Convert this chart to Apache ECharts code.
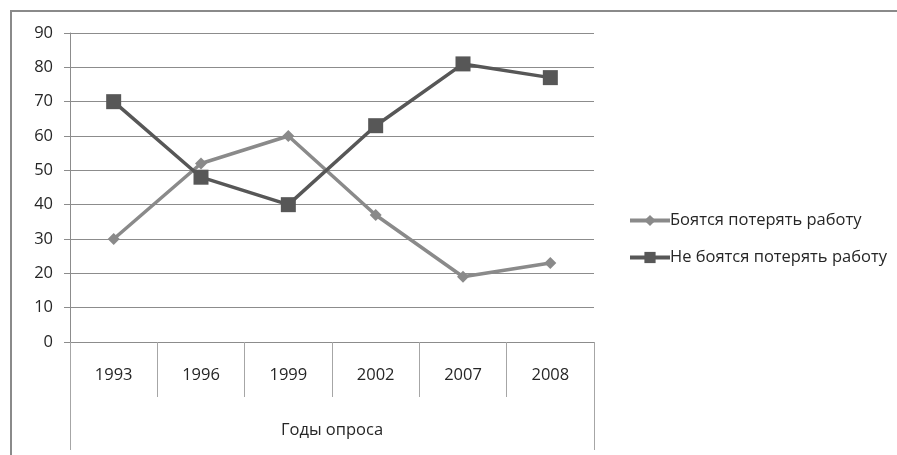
<!DOCTYPE html>
<html>
<head>
<meta charset="utf-8">
<script src="https://cdn.jsdelivr.net/npm/echarts@6/dist/echarts.min.js"></script>
<style>
  html, body { margin: 0; padding: 0; background: #fff; }
  #chart { width: 897px; height: 455px; }
</style>
</head>
<body>
<div id="chart"></div>
<script>
// Survey years and shares of respondents (%)
const years = ['1993', '1996', '1999', '2002', '2007', '2008'];
const afraid = [30, 52, 60, 37, 19, 23];
const notAfraid = [70, 48, 40, 63, 81, 77];
const seriesNames = ['Боятся потерять работу', 'Не боятся потерять работу'];
const axisTitle = 'Годы опроса';

const FONT = '"Open Sans", sans-serif';
const FS = 16.5;
const TEXT = '#262626';
const LINE = '#8c8c8c';

const chart = echarts.init(document.getElementById('chart'), null, { renderer: 'canvas' });

chart.setOption({
  animation: false,
  backgroundColor: '#ffffff',
  textStyle: { fontFamily: FONT },
  graphic: [{
    type: 'polyline',
    shape: { points: [[11, 455], [11, 11], [897, 11]] },
    style: { stroke: '#8a8a8a', lineWidth: 2, fill: null },
    silent: true
  }],
  grid: { left: 70, right: 303, top: 33, bottom: 113, containLabel: false },
  legend: {
    orient: 'vertical',
    left: 623,
    top: 207,
    itemWidth: 40,
    itemHeight: 14,
    itemGap: 20,
    lineStyle: { width: 4 },
    textStyle: { fontFamily: FONT, fontSize: FS, color: TEXT, padding: [0, 0, 0, -5] },
    data: seriesNames
  },
  xAxis: [{
    type: 'category',
    data: years,
    boundaryGap: true,
    axisLine: { show: true, lineStyle: { color: LINE, width: 1 } },
    axisTick: { show: true, length: 55, lineStyle: { color: '#a6a6a6', width: 1 } },
    axisLabel: { fontFamily: FONT, fontSize: FS, color: TEXT, margin: 25 }
  }, {
    type: 'category',
    position: 'bottom',
    data: [axisTitle],
    boundaryGap: true,
    axisLine: { show: false },
    axisTick: { show: true, length: 108, lineStyle: { color: '#a6a6a6', width: 1 } },
    axisLabel: { fontFamily: FONT, fontSize: FS, color: TEXT, margin: 80 },
    splitLine: { show: false }
  }],
  yAxis: {
    type: 'value',
    min: 0,
    max: 90,
    interval: 10,
    axisLine: { show: true, lineStyle: { color: LINE, width: 1 } },
    axisTick: { show: true, length: 6, lineStyle: { color: LINE } },
    axisLabel: { fontFamily: FONT, fontSize: FS, color: TEXT, margin: 17 },
    splitLine: { show: true, lineStyle: { color: LINE, width: 1 } }
  },
  series: [{
    name: seriesNames[0],
    type: 'line',
    data: afraid,
    symbol: 'diamond',
    symbolSize: 12,
    lineStyle: { color: '#8a8a8a', width: 3.5 },
    itemStyle: { color: '#8a8a8a' }
  }, {
    name: seriesNames[1],
    type: 'line',
    data: notAfraid,
    symbol: 'rect',
    symbolSize: 15,
    lineStyle: { color: '#575757', width: 3.5 },
    itemStyle: { color: '#575757' }
  }]
});
</script>
</body>
</html>
